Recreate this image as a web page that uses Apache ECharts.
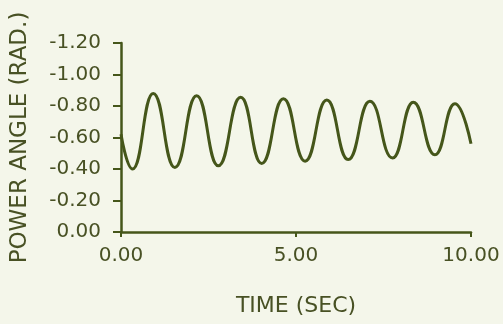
<!DOCTYPE html>
<html>
<head>
<meta charset="utf-8">
<script src="https://cdn.jsdelivr.net/npm/echarts@6/dist/echarts.min.js"></script>
<style>
  html, body { margin: 0; padding: 0; background: #f4f6ea; }
  #chart { width: 503px; height: 324px; }
</style>
</head>
<body>
<div id="chart"></div>
<script>
// time (s) and power angle (rad): start, troughs/peaks, end
const timeSec = [0, 0.33, 0.92, 1.54, 2.16, 2.78, 3.42, 4.02, 4.64, 5.26, 5.88, 6.49, 7.11, 7.76, 8.35, 8.97, 9.54, 10.0];
const powerAngle = [-0.62, -0.40, -0.88, -0.41, -0.865, -0.42, -0.855, -0.435, -0.846, -0.45, -0.838, -0.46, -0.83, -0.47, -0.824, -0.49, -0.815, -0.56];
const xTicks = [0, 5, 10];

const ink = '#45561a';
const textInk = '#485124';
const font = 'DejaVu Sans';

let chart = echarts.init(document.getElementById('chart'));
chart.setOption({
  backgroundColor: '#f4f6ea',
  animation: false,
  grid: { left: 121, right: 32, top: 43, bottom: 92 },
  xAxis: {
    type: 'value',
    min: xTicks[0],
    max: xTicks[xTicks.length - 1],
    interval: xTicks[1] - xTicks[0],
    name: 'TIME (SEC)',
    nameLocation: 'middle',
    nameGap: 63,
    nameTextStyle: { color: textInk, fontSize: 22, fontFamily: font },
    axisLine: { lineStyle: { color: ink, width: 2.5 } },
    axisTick: { length: 5, lineStyle: { color: ink, width: 2 } },
    axisLabel: {
      color: textInk, fontSize: 20, fontFamily: font, margin: 14,
      formatter: v => v.toFixed(2)
    },
    splitLine: { show: false }
  },
  yAxis: {
    type: 'value',
    inverse: true,
    min: -1.2,
    max: 0,
    interval: 0.2,
    name: 'POWER ANGLE (RAD.)',
    nameLocation: 'middle',
    nameGap: 89,
    nameTextStyle: { color: textInk, fontSize: 23, fontFamily: font },
    axisLine: { show: true, lineStyle: { color: ink, width: 2.5 } },
    axisTick: { show: true, length: 8, lineStyle: { color: ink, width: 2 } },
    axisLabel: {
      color: textInk, fontSize: 20, fontFamily: font, margin: 20,
      formatter: v => (Math.abs(v) < 1e-9 ? 0 : v).toFixed(2)
    },
    splitLine: { show: false }
  },
  series: [{
    type: 'line',
    data: timeSec.map((t, i) => [t, powerAngle[i]]),
    smooth: 0.5,
    smoothMonotone: 'x',
    showSymbol: false,
    lineStyle: { color: ink, width: 3 }
  }]
});
</script>
</body>
</html>
